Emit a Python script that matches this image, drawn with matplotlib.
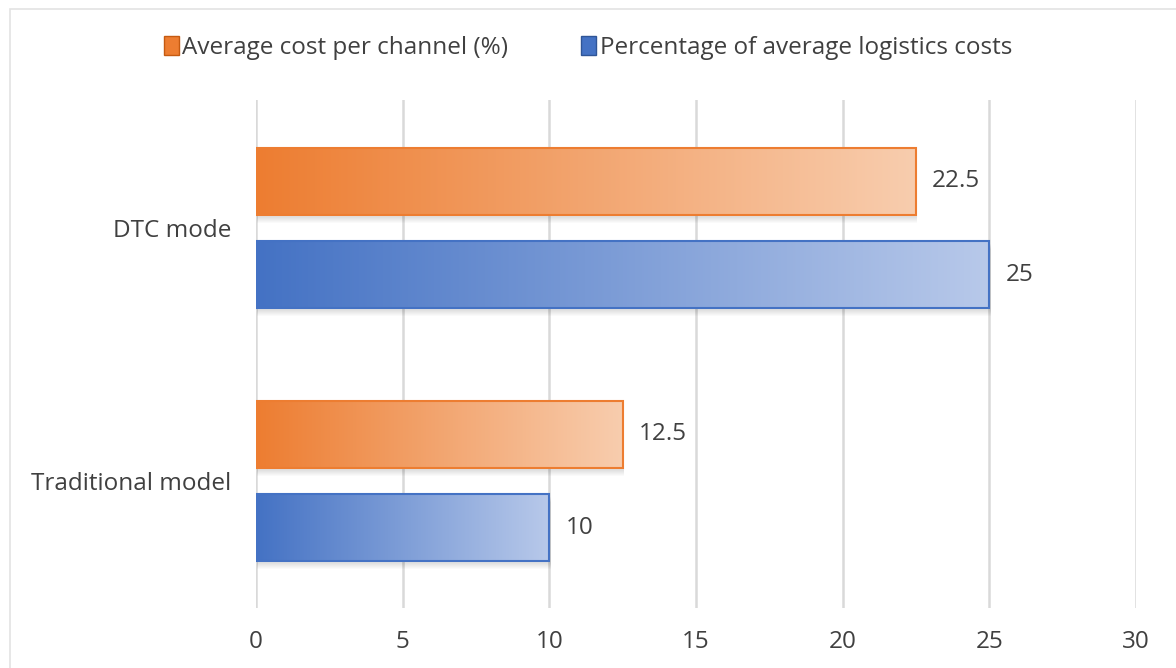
import numpy as np
import matplotlib.pyplot as plt
from matplotlib.colors import LinearSegmentedColormap
from matplotlib.patches import Rectangle

# data
categories = ['Traditional model', 'DTC mode']
series_names = ['Average cost per channel (%)', 'Percentage of average logistics costs']
avg_cost = [12.5, 22.5]
logistics = [10, 25]
xticks = [0, 5, 10, 15, 20, 25, 30]

plt.rcParams['font.family'] = ['Open Sans', 'DejaVu Sans']
text_col = '#404040'
fs = 17.5

orange_cmap = LinearSegmentedColormap.from_list('o', ['#ED7D31', '#F8CDAE'])
blue_cmap = LinearSegmentedColormap.from_list('b', ['#4472C4', '#B8C9EA'])

fig = plt.figure(figsize=(11.76, 6.68), dpi=100)
ax = fig.add_axes([256 / 1176, 1 - 608 / 668, 880 / 1176, 508 / 668])

# light chart border
fig.patches.append(Rectangle((10 / 1176, -0.1), 1.2, 1 - 9 / 668 + 0.1,
                             transform=fig.transFigure, fill=False,
                             edgecolor='#E3E3E3', linewidth=1.2, zorder=0))

h = 0.265
off = 0.184
y = np.arange(len(categories))


def grad_bar(ycen, val, cmap, edge):
    grad = np.linspace(0, 1, 256).reshape(1, -1)
    # soft shadow
    for k in range(6):
        ax.add_patch(Rectangle((0.05, ycen - h / 2 - 0.012 - k * 0.004), val, h,
                               facecolor='#000000', alpha=0.018, edgecolor='none', zorder=2))
    im = ax.imshow(grad, cmap=cmap, aspect='auto', extent=(0, val, ycen - h / 2, ycen + h / 2),
                   zorder=3, origin='lower')
    rect = Rectangle((0, ycen - h / 2), val, h, facecolor='none', edgecolor=edge,
                     linewidth=1.5, zorder=4)
    ax.add_patch(rect)
    im.set_clip_path(rect)


for i in range(len(categories)):
    grad_bar(y[i] + off, avg_cost[i], orange_cmap, '#ED7D31')
    grad_bar(y[i] - off, logistics[i], blue_cmap, '#4472C4')
    ax.text(avg_cost[i] + 0.55, y[i] + off, f'{avg_cost[i]:g}', va='center', ha='left',
            fontsize=fs, color=text_col)
    ax.text(logistics[i] + 0.55, y[i] - off, f'{logistics[i]:g}', va='center', ha='left',
            fontsize=fs, color=text_col)

ax.set_xlim(0, 30)
ax.set_ylim(-0.502, 1.506)
ax.set_xticks(xticks)
ax.set_yticks(y)
ax.set_yticklabels(categories)
ax.tick_params(length=0, labelsize=fs, labelcolor=text_col)
ax.tick_params(axis='x', pad=16)
ax.tick_params(axis='y', pad=18)
ax.grid(axis='x', color='#D9D9D9', linewidth=1.8, zorder=0)
ax.set_axisbelow(True)
for s in ax.spines.values():
    s.set_visible(False)

handles = [Rectangle((0, 0), 1, 1, facecolor='#ED7D31', edgecolor='#C55A11'),
           Rectangle((0, 0), 1, 1, facecolor='#4472C4', edgecolor='#2F5597')]
fig.legend(handles, series_names, loc='center', bbox_to_anchor=(0.5, 1 - 48 / 668), ncol=2,
           frameon=False, fontsize=fs, labelcolor=text_col, handlelength=0.6,
           handleheight=0.85, handletextpad=0.15, columnspacing=3.0)

fig.savefig('out.png', dpi=100)
